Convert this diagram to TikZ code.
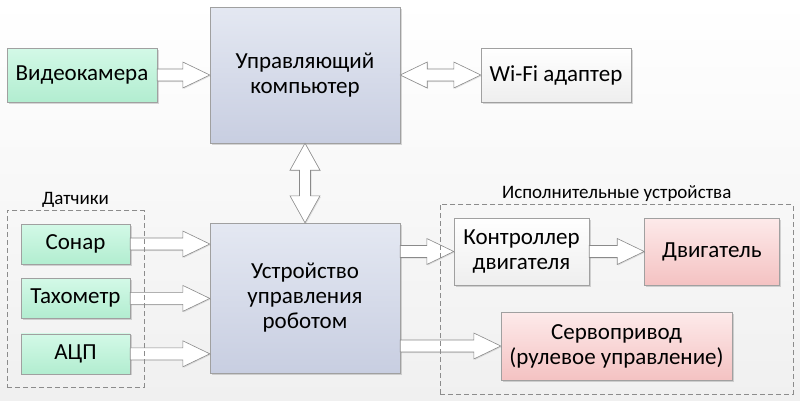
\documentclass[tikz,border=0pt]{standalone}
\usepackage{fontspec}
\setmainfont{Carlito}
\usetikzlibrary{calc,positioning,fit,shadows}

\definecolor{greentop}{HTML}{D3F9E7}
\definecolor{greenbot}{HTML}{B2EDD0}
\definecolor{bluetop}{HTML}{E4E8F2}
\definecolor{bluebot}{HTML}{C8CEE1}
\definecolor{pinktop}{HTML}{FDEAEA}
\definecolor{pinkbot}{HTML}{F4C2C2}
\definecolor{whitebot}{HTML}{EEEEEE}
\definecolor{boxline}{HTML}{A0A0A0}
\definecolor{arrowline}{HTML}{8A8A8A}
\definecolor{groupline}{HTML}{8C8C8C}
\definecolor{bggray}{HTML}{F0F0F0}

% fat hollow arrows (horizontal: y of the start point)
\newcommand{\fatright}[2]{%
  \draw[blockarrow] let \p1=(#1), \p2=(#2) in
    (\x1,\y1+6pt) -- (\x2-27pt,\y1+6pt) -- (\x2-27pt,\y1+13pt) -- (\x2,\y1)
    -- (\x2-27pt,\y1-13pt) -- (\x2-27pt,\y1-6pt) -- (\x1,\y1-6pt) -- cycle;}
\newcommand{\fatboth}[2]{%
  \draw[blockarrow] let \p1=(#1), \p2=(#2) in
    (\x1,\y1) -- (\x1+27pt,\y1+13pt) -- (\x1+27pt,\y1+6pt) -- (\x2-27pt,\y1+6pt)
    -- (\x2-27pt,\y1+13pt) -- (\x2,\y1) -- (\x2-27pt,\y1-13pt) -- (\x2-27pt,\y1-6pt)
    -- (\x1+27pt,\y1-6pt) -- (\x1+27pt,\y1-13pt) -- cycle;}
\newcommand{\fatupdown}[2]{%
  \draw[blockarrow] let \p1=(#1), \p2=(#2) in
    (\x1,\y1) -- (\x1+15pt,\y1-27pt) -- (\x1+5.5pt,\y1-27pt) -- (\x1+5.5pt,\y2+27pt)
    -- (\x1+15pt,\y2+27pt) -- (\x1,\y2) -- (\x1-15pt,\y2+27pt) -- (\x1-5.5pt,\y2+27pt)
    -- (\x1-5.5pt,\y1-27pt) -- (\x1-15pt,\y1-27pt) -- cycle;}

\begin{document}
\begin{tikzpicture}[
    x=1pt,y=-1pt,
    every node/.style={align=center,inner sep=0pt},
    block/.style={draw=boxline,font=\fontsize{23}{25}\selectfont,
      drop shadow={shadow xshift=1.5pt,shadow yshift=-1.5pt,fill=black,opacity=0.15}},
    sensor/.style={block,top color=greentop,bottom color=greenbot,minimum width=109pt,minimum height=40pt},
    computer/.style={block,top color=bluetop,bottom color=bluebot,minimum width=190pt},
    plain/.style={block,top color=white,bottom color=whitebot},
    actuator/.style={block,top color=pinktop,bottom color=pinkbot},
    blockarrow/.style={draw=arrowline,fill=white,line join=miter,line width=0.6pt,
      drop shadow={shadow xshift=1pt,shadow yshift=-1pt,fill=black,opacity=0.1}},
    group/.style={draw=groupline,dash pattern=on 5pt off 3pt,thin,inner sep=13.5pt},
    grouplabel/.style={font=\fontsize{19}{21}\selectfont}]

  \useasboundingbox (0,0) rectangle (800,400);
  \fill[top color=white,bottom color=bggray] (0,0) rectangle (800,400);

  % top row
  \node[computer,minimum height=136pt] (pc) at (305,75) {Управляющий\\компьютер};
  \node[sensor,minimum width=150pt,minimum height=54pt] (camera) at (82,75) {Видеокамера};
  \node[plain,minimum width=150pt,minimum height=54pt] (wifi) at (556,75) {Wi-Fi адаптер};

  % robot controller and sensors
  \node[computer,minimum height=150pt] (robot) at (305,298) {Устройство\\управления\\роботом};
  \node[sensor] (sonar) at (75.5,244) {Сонар};
  \node[sensor,below=14pt of sonar] (tacho) {Тахометр};
  \node[sensor,below=15pt of tacho] (adc) {АЦП};

  % actuators
  \node[plain,minimum width=135pt,minimum height=67pt] (motorctl) at (521.5,251.5) {Контроллер\\двигателя};
  \node[actuator,minimum width=135pt,minimum height=67pt,right=55pt of motorctl] (motor) {Двигатель};
  \node[actuator,minimum width=231pt,minimum height=68pt] (servo) at (616.5,346) {Сервопривод\\(рулевое управление)};

  \fatright{camera.east}{pc.west}
  \fatboth{pc.east}{wifi.west}
  \fatupdown{pc.south}{robot.north}
  \fatright{sonar.east}{robot.west}
  \fatright{tacho.east}{robot.west}
  \fatright{adc.east}{robot.west}
  \fatright{robot.east |- motorctl.west}{motorctl.west}
  \fatright{motorctl.east}{motor.west}
  \fatright{robot.east |- servo.west}{servo.west}

  % groups
  \node[group,fit=(sonar)(adc)] (sensors) {};
  \node[grouplabel,above=6pt of sensors.north,anchor=base] {Датчики};
  \node[group,fit=(motorctl)(motor)(servo)] (actuators) {};
  \node[grouplabel,above=6pt of actuators.north,anchor=base] {Исполнительные устройства};

\end{tikzpicture}
\end{document}
